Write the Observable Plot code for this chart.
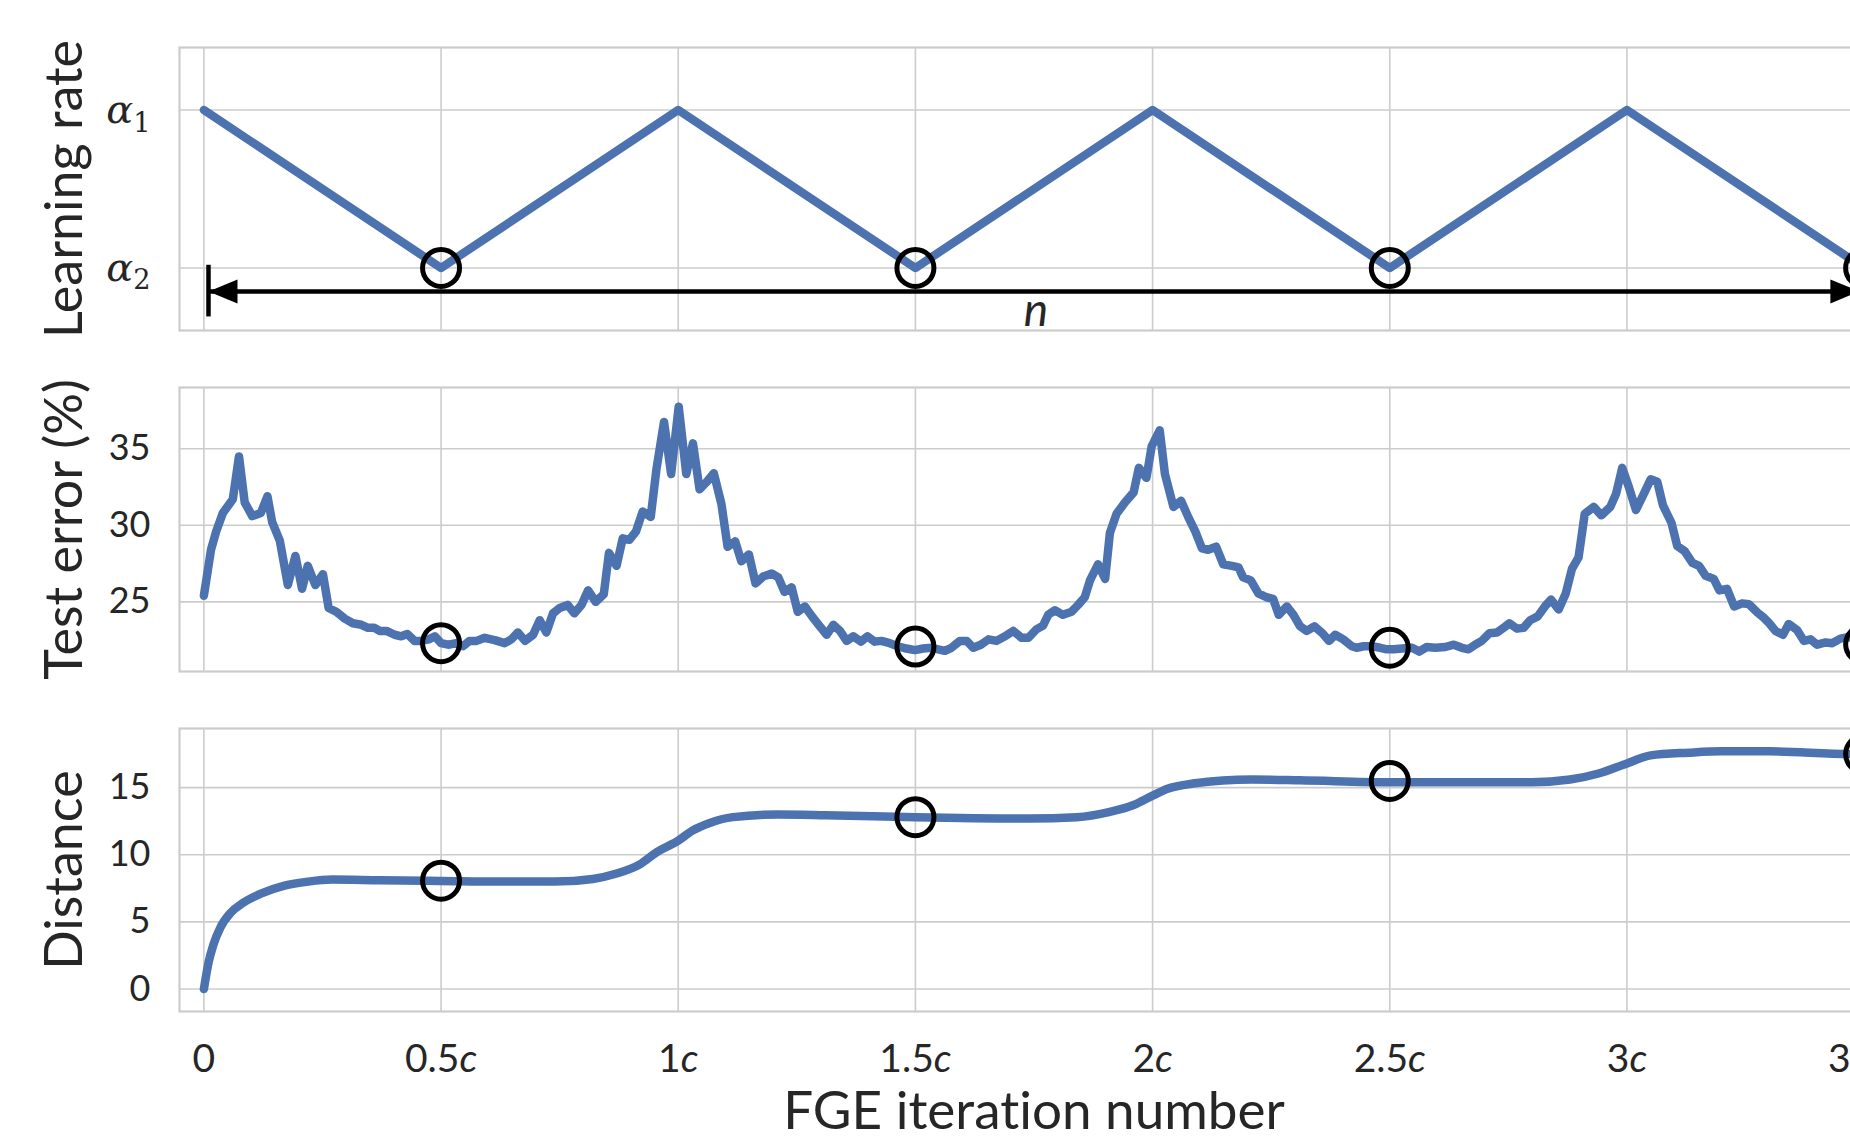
<!DOCTYPE html>
<html>
<head>
<meta charset="utf-8">
<script src="https://cdn.jsdelivr.net/npm/d3@7"></script>
<script src="https://cdn.jsdelivr.net/npm/@observablehq/plot@0.6"></script>
<style>
  html, body { margin: 0; padding: 0; background: #fff; overflow: hidden; }
  #wrap { position: relative; width: 1850px; height: 1137px; overflow: hidden; background: #fff; }
  #wrap > svg { position: absolute; left: 0; }
  #wrap text { font-variant-ligatures: none; }
</style>
</head>
<body>
<div id="wrap"></div>
<script>
// ---------------- data ----------------
const xTicks = [0, 0.5, 1, 1.5, 2, 2.5, 3, 3.5];
const xLabel = "FGE iteration number";

// learning rate (cyclical, triangle)
const lrLabel = "Learning rate";
const lrX = [0, 0.5, 1, 1.5, 2, 2.5, 3, 3.5];
const lrY = [1, 0, 1, 0, 1, 0, 1, 0];
const lrTicks = [0, 1];
const lrTickText = ["α2", "α1"];

// n arrow annotation
const arrowX = [0.0097, 3.49];
const arrowY = -0.149;
const barY = [0.017, -0.31];
const nLabel = "n";
const nPos = [1.754, -0.368];

// test error (%)
const errLabel = "Test error (%)";
const errTicks = [25, 30, 35];
const errX = [0,0.015,0.026,0.04,0.061,0.074,0.086,0.102,0.12,0.134,0.144,0.16,0.177,0.193,0.207,0.219,0.235,0.251,0.263,0.279,0.297,0.314,0.332,0.346,0.359,0.371,0.385,0.402,0.416,0.429,0.444,0.458,0.474,0.487,0.5,0.515,0.532,0.546,0.56,0.575,0.592,0.613,0.634,0.648,0.662,0.677,0.694,0.708,0.722,0.736,0.75,0.767,0.781,0.796,0.81,0.826,0.843,0.854,0.87,
  0.883,0.897,0.911,0.925,0.942,0.954,0.97,0.985,1.001,1.017,1.031,1.045,1.059,1.075,1.091,1.104,1.12,1.133,1.149,1.163,1.179,1.197,1.211,1.224,1.239,1.252,1.267,1.282,1.296,1.313,1.327,1.341,1.355,1.369,1.385,1.399,1.414,1.428,1.446,1.463,1.481,1.499,1.516,1.534,1.548,1.562,1.576,1.594,1.608,1.622,1.638,1.654,1.671,1.689,1.706,1.724,1.738,
  1.755,1.769,1.78,1.794,1.811,1.829,1.843,1.857,1.868,1.885,1.9,1.91,1.924,1.942,1.96,1.971,1.987,1.998,2.015,2.026,2.044,2.06,2.075,2.09,2.104,2.117,2.134,2.149,2.167,2.181,2.191,2.207,2.223,2.24,2.254,2.266,2.283,2.297,2.311,2.325,2.341,2.358,2.372,2.385,2.402,2.42,2.43,2.445,2.462,2.48,2.494,2.508,2.526,2.547,2.562,2.578,2.596,2.617,2.635,2.652,2.666,
  2.68,2.694,2.71,2.726,2.74,2.752,2.768,2.782,2.796,2.812,2.827,2.84,2.856,2.871,2.884,2.898,2.911,2.93,2.946,2.965,2.977,2.99,3.004,3.019,3.034,3.05,3.064,3.076,3.094,3.106,3.122,3.138,3.152,3.166,3.183,3.195,3.211,3.226,3.243,3.257,3.275,3.289,3.3,3.313,3.329,3.341,3.359,3.373,3.387,3.401,3.419,3.433,3.45,3.468,3.5];
const errY = [25.4,28.4,29.6,30.8,31.7,34.5,31.5,30.6,30.8,31.9,30.2,29.0,26.1,28.0,25.85,27.35,26.1,26.8,24.6,24.35,23.9,23.6,23.5,23.3,23.3,23.1,23.1,22.85,22.75,22.9,22.45,22.45,22.55,22.75,22.3,22.2,22.3,22.1,22.45,22.45,22.65,22.5,22.3,22.55,23.0,22.45,22.85,23.8,23.0,24.25,24.6,24.8,24.25,24.8,25.75,25.0,25.5,28.2,27.35,
  29.15,29.05,29.6,30.9,30.55,33.65,36.75,33.35,37.75,33.35,35.35,32.35,32.8,33.4,31.4,28.6,28.95,27.65,28.1,26.2,26.65,26.85,26.6,25.65,25.95,24.35,24.7,24.05,23.5,22.85,23.5,23.1,22.45,22.75,22.4,22.75,22.4,22.45,22.3,22.1,21.95,21.85,21.95,22.0,21.9,21.8,22.0,22.45,22.45,22.0,22.2,22.55,22.45,22.75,23.1,22.65,22.65,
  23.2,23.45,24.15,24.45,24.15,24.35,24.8,25.3,26.4,27.45,26.5,29.5,30.75,31.5,32.15,33.75,33.1,35.15,36.2,33.35,31.2,31.6,30.55,29.6,28.5,28.4,28.6,27.45,27.35,27.25,26.6,26.4,25.55,25.3,25.2,24.15,24.7,24.15,23.4,23.1,23.4,22.95,22.45,22.85,22.55,22.1,22.0,22.1,22.1,22.0,21.9,21.9,21.95,22.0,21.75,22.05,22.0,22.05,22.2,22.0,21.9,
  22.2,22.45,22.95,23.0,23.3,23.6,23.25,23.3,23.8,24.05,24.7,25.15,24.5,25.55,27.15,27.9,30.75,31.2,30.65,31.2,32.05,33.75,32.5,31.0,31.95,33.0,32.85,31.3,30.15,28.65,28.3,27.55,27.35,26.7,26.5,25.75,25.85,24.7,24.9,24.85,24.3,23.95,23.6,23.1,22.85,23.55,23.15,22.45,22.55,22.2,22.35,22.3,22.6,22.7,22.4];

// distance
const distLabel = "Distance";
const distTicks = [0, 5, 10, 15];
const distX = [0,0.01,0.02,0.035,0.057,0.082,0.12,0.17,0.22,0.27,0.37,0.5,0.62,0.74,0.82,0.87,0.92,0.955,1.0,1.03,1.065,1.115,1.21,1.31,1.5,1.74,1.84,1.91,1.96,2.0,2.03,2.085,2.21,2.31,2.5,2.68,2.8,2.88,2.94,3.0,3.05,3.13,3.2,3.3,3.47,3.5];
const distY = [0,2.0,3.3,4.6,5.7,6.4,7.1,7.7,8.0,8.15,8.1,8.05,8.0,8.0,8.2,8.6,9.3,10.2,11.05,11.8,12.35,12.8,13.0,12.95,12.8,12.7,12.8,13.2,13.7,14.4,14.9,15.3,15.6,15.55,15.4,15.4,15.4,15.6,16.05,16.8,17.4,17.6,17.7,17.7,17.5,17.5];

// circled snapshot points
const markX = [0.5, 1.5, 2.5, 3.5];
const lrMark = [0, 0, 0, 0];
const errMark = [22.3, 22.08, 22.0, 22.23];
const distMark = [8.07, 12.8, 15.5, 17.5];

// ---------------- style ----------------
const BLUE = "#4c72b0";
const GRID = "#cccccc";
const INK = "#262626";
const FONT = "Lato, 'Open Sans', sans-serif";
const W = 1888, ML = 179;
const xDomain = [-0.0514, 3.5514];

const arrowLeft = { draw(ctx) { ctx.moveTo(0, 0); ctx.lineTo(29, -12); ctx.lineTo(29, 12); ctx.closePath(); } };
const arrowRight = { draw(ctx) { ctx.moveTo(0, 0); ctx.lineTo(-29, -12); ctx.lineTo(-29, 12); ctx.closePath(); } };

const zip = (xs, ys) => xs.map((x, i) => ({ x, y: ys[i] }));

function panel({ top, height, mt, mb, yDomain, yTicks, yFormat, yFont, yLabel, line, curve, marks, extra = [], xAxis = false }) {
  const m = [
    Plot.gridX(xTicks, { stroke: GRID, strokeOpacity: 1, strokeWidth: 1.6 }),
    Plot.gridY(yTicks, { stroke: GRID, strokeOpacity: 1, strokeWidth: 1.6 }),
    Plot.frame({ stroke: GRID, strokeWidth: 2.2 }),
    Plot.axisY({ ticks: yTicks, tickSize: 0, tickPadding: 29, fontSize: yFont.size, fontFamily: yFont.family, fontStyle: yFont.style, tickFormat: yFormat, label: null }),
    Plot.text([yLabel], { text: d => d, frameAnchor: "left", textAnchor: "middle", lineAnchor: "middle", rotate: -90, dx: -114, fontSize: 52, fill: INK, ariaLabel: "ylabel" }),
    Plot.line(line, { x: "x", y: "y", stroke: BLUE, strokeWidth: 8.5, curve, strokeLinejoin: "round", strokeLinecap: "round" }),
    Plot.dot(marks, { x: "x", y: "y", r: 18.5, stroke: "black", strokeWidth: 5, fill: "none" }),
    ...extra
  ];
  if (xAxis) {
    m.push(Plot.axisX({ ticks: xTicks, tickSize: 0, tickPadding: 33, fontSize: 39, tickFormat: d => d === 0 ? "0" : `${d}c`, label: null }));
    m.push(Plot.text([xLabel], { text: d => d, frameAnchor: "bottom", textAnchor: "middle", lineAnchor: "middle", dy: 101, fontSize: 53, fill: INK }));
  }
  const svg = Plot.plot({
    width: W, height, marginLeft: ML, marginRight: 0, marginTop: mt, marginBottom: mb,
    x: { domain: xDomain, axis: xAxis ? undefined : null },
    y: { domain: yDomain },
    style: { fontFamily: FONT, color: INK, background: "transparent", maxWidth: "none", overflow: "visible" },
    marks: m
  });
  svg.style.top = top + "px";
  svg.style.maxWidth = "none";
  svg.style.position = "absolute";
  return svg;
}

const wrap = document.getElementById("wrap");

// Panel 1: learning rate
const p1 = panel({
  top: 0, height: 340, mt: 47, mb: 10,
  yDomain: [-0.396, 1.396], yTicks: lrTicks,
  yFormat: d => lrTickText[lrTicks.indexOf(d)],
  yFont: { size: 40, family: "'DejaVu Serif', 'Liberation Serif', serif", style: "italic" },
  yLabel: lrLabel, line: zip(lrX, lrY), curve: "linear", marks: zip(markX, lrMark),
  extra: [
    Plot.ruleY([arrowY], { x1: arrowX[0], x2: arrowX[1], stroke: "black", strokeWidth: 4.5 }),
    Plot.ruleX([arrowX[0]], { y1: barY[0], y2: barY[1], stroke: "black", strokeWidth: 4.5 }),
    Plot.dot([arrowX[0]], { x: d => d, y: () => arrowY, symbol: arrowLeft, fill: "black", stroke: "none" }),
    Plot.dot([arrowX[1]], { x: d => d, y: () => arrowY, symbol: arrowRight, fill: "black", stroke: "none" }),
    Plot.text([nLabel], { x: () => nPos[0], y: () => nPos[1], text: d => d, fontSize: 46, fontStyle: "italic", lineAnchor: "bottom", fill: INK })
  ]
});
wrap.appendChild(p1);

// Panel 2: test error
const p2 = panel({
  top: 340, height: 341, mt: 47, mb: 10,
  yDomain: [20.45, 39.0], yTicks: errTicks, yFormat: d => String(d),
  yFont: { size: 36, family: FONT, style: "normal" },
  yLabel: errLabel, line: zip(errX, errY), curve: "linear", marks: zip(markX, errMark)
});
wrap.appendChild(p2);

// Panel 3: distance
const p3 = panel({
  top: 681, height: 456, mt: 47, mb: 126,
  yDomain: [-1.67, 19.4], yTicks: distTicks, yFormat: d => String(d),
  yFont: { size: 36, family: FONT, style: "normal" },
  yLabel: distLabel, line: zip(distX, distY), curve: "monotone-x", marks: zip(markX, distMark),
  xAxis: true
});
wrap.appendChild(p3);

// wider word spacing in the y labels, as in the LaTeX original
[p1, p2, p3].forEach(p => p.querySelectorAll('g[aria-label="ylabel"] text').forEach(t => t.setAttribute("word-spacing", "12")));

// typographic touches: subscripts for α ticks, italic "c" for x ticks
p1.querySelectorAll('g[aria-label="y-axis tick label"] text').forEach(t => {
  const s = t.textContent;
  t.textContent = "";
  const a = document.createElementNS("http://www.w3.org/2000/svg", "tspan");
  a.textContent = s[0];
  const b = document.createElementNS("http://www.w3.org/2000/svg", "tspan");
  b.textContent = s.slice(1);
  b.setAttribute("font-size", "0.68em");
  b.setAttribute("font-style", "normal");
  b.setAttribute("dy", "0.32em");
  t.appendChild(a); t.appendChild(b);
});
p3.querySelectorAll('g[aria-label="x-axis tick label"] text').forEach(t => {
  const s = t.textContent;
  if (!s.endsWith("c")) return;
  t.textContent = "";
  const a = document.createElementNS("http://www.w3.org/2000/svg", "tspan");
  a.textContent = s.slice(0, -1);
  const b = document.createElementNS("http://www.w3.org/2000/svg", "tspan");
  b.textContent = "c";
  b.setAttribute("font-style", "italic");
  t.appendChild(a); t.appendChild(b);
});
</script>
</body>
</html>
